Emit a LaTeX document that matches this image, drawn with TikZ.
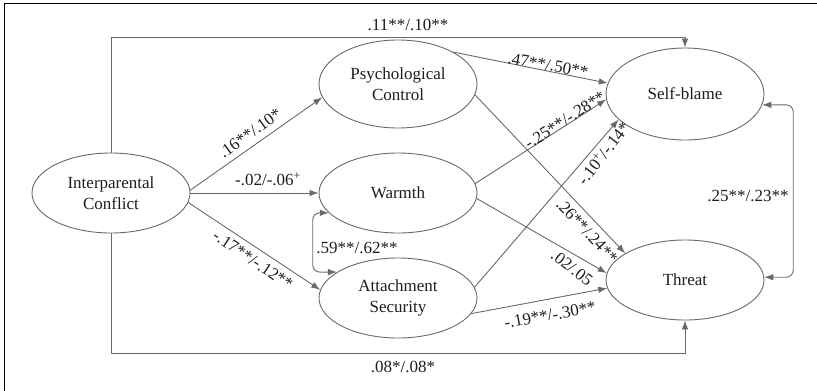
\documentclass[tikz,border=0pt]{standalone}
\usepackage{fontspec}
\setmainfont{Liberation Serif}
\usetikzlibrary{arrows.meta,shapes.geometric}
\definecolor{lc}{RGB}{105,105,105}
\definecolor{tc}{RGB}{30,30,30}
\begin{document}
\begin{tikzpicture}[x=1pt,y=-1pt,
  var/.style={ellipse, draw=lc, line width=0.9pt, inner sep=0pt, align=center,
    text=tc, font=\fontsize{17}{21}\selectfont, minimum width=158pt, minimum height=80pt},
  conn/.style={draw=lc, line width=0.9pt, -{Latex[length=9pt,width=6.5pt]}},
  biconn/.style={draw=lc, line width=0.9pt, {Latex[length=9pt,width=6.5pt]}-{Latex[length=9pt,width=6.5pt]}, rounded corners=7pt},
  lab/.style={font=\fontsize{17}{21}\selectfont, inner sep=0pt, text=tc}]
\useasboundingbox (0,0) rectangle (817,391);
\fill[white] (0,0) rectangle (817,391);
\draw[black, line width=1.5pt] (4.5,391) -- (4.5,3.5) -- (817,3.5);

\node[var] (ic) at (111,193) {Interparental\\Conflict};
\node[var, minimum height=88pt] (pc) at (398,84) {Psychological\\Control};
\node[var] (w) at (398,193) {Warmth};
\node[var] (as) at (398,298) {Attachment\\Security};
\node[var, minimum height=92pt] (sb) at (685,94) {Self-blame};
\node[var] (th) at (685,280) {Threat};

\coordinate (topY) at (0,37);
\coordinate (botY) at (0,353);

\draw[conn] (ic.north) -- (ic.north |- topY) -| (sb.north);
\draw[conn] (ic.south) -- (ic.south |- botY) -| (th.south);
\draw[conn] (ic.2) -- (pc.190);
\draw[conn] (ic.east) -- (w.west);
\draw[conn] (ic.-7) -- (as.174);
\draw[conn] (pc.30) -- (sb.172);
\draw[conn] (pc.-8) -- (th.156);
\draw[conn] (w.7) -- (sb.184);
\draw[conn] (w.-4) -- (th.175);
\draw[conn] (as.8) -- (sb.201);
\draw[conn] (as.-12) -- (th.186);
\draw[biconn] (w.196) -- ++(-16,0) |- (as.157);
\draw[biconn] (sb.-8) -- ++(31,0) |- (th.2);

\node[lab] (l1) at (408,25) {.11**/.10**};
\node[lab] (l2) at (403,367) {.08*/.08*};
\node[lab, rotate=36] (l3) at (250,133) {.16**/.10*};
\node[lab] (l4) at (268,179) {-.02/-.06\textsuperscript{+}};
\node[lab, rotate=-34] (l5) at (253,260) {-.17**/-.12**};
\node[lab] (l6) at (357,248) {.59**/.62**};
\node[lab, rotate=-10] (l7) at (548,65) {.47**/.50**};
\node[lab, rotate=33] (l8) at (565,120) {-.25**/-.28**};
\node[lab, rotate=52] (l9) at (603,153) {-.10\textsuperscript{+}/-.14*};
\node[lab, rotate=-47] (l10) at (587,231) {.26**/.24**};
\node[lab, rotate=-38] (l11) at (572,268) {.02/.05};
\node[lab, rotate=10] (l12) at (550,315) {-.19**/-.30**};
\node[lab] (l13) at (748,196) {.25**/.23**};
\end{tikzpicture}
\end{document}
